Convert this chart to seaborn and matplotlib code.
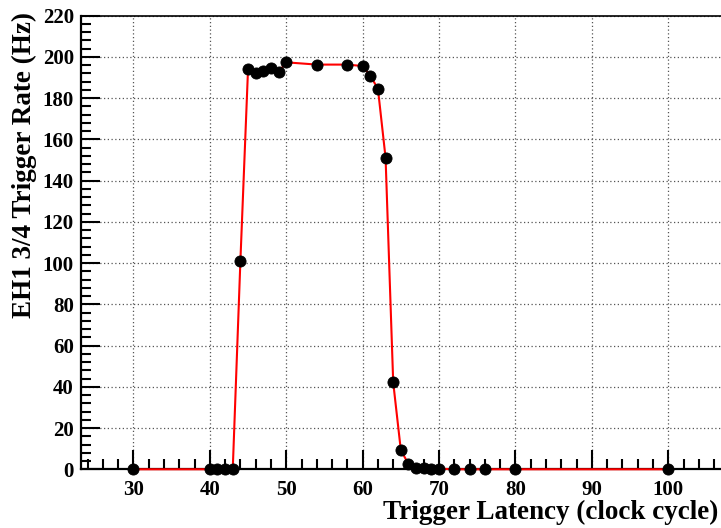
import matplotlib
matplotlib.use("Agg")
import matplotlib.pyplot as plt
import seaborn as sns
import pandas as pd
from matplotlib.ticker import MultipleLocator

latency = [30, 40, 41, 42, 43, 44, 45, 46, 47, 48, 49, 50, 54, 58, 60, 61, 62, 63,
           64, 65, 66, 67, 68, 69, 70, 72, 74, 76, 80, 100]
rate = [0, 0, 0, 0, 0, 101, 194, 192, 193.3, 194.4, 192.6, 197.3, 196.2, 196.2,
        195.5, 190.8, 184.5, 151, 42.1, 9.2, 2.6, 0.8, 0.4, 0.3, 0.3, 0, 0, 0, 0, 0]
x_label = "Trigger Latency (clock cycle)"
y_label = "EH1 3/4 Trigger Rate (Hz)"

df = pd.DataFrame({"latency": latency, "rate": rate})

sns.set_style("ticks", {"text.color": "black", "axes.edgecolor": "black",
                        "xtick.color": "black", "ytick.color": "black",
                        "axes.labelcolor": "black"})
plt.rcParams["font.family"] = ["Liberation Serif", "DejaVu Serif"]
plt.rcParams["font.weight"] = "bold"

fig = plt.figure(figsize=(7.21, 5.28), dpi=100)
W, H = 721, 528
left, right, top, bottom = 80.7, 721, 15.5, 469.3
ax = fig.add_axes([left / W, 1 - bottom / H, (right - left) / W, (bottom - top) / H])

sns.lineplot(data=df, x="latency", y="rate", ax=ax, color="red", linewidth=1.5,
             zorder=3, clip_on=False, sort=False)
sns.scatterplot(data=df, x="latency", y="rate", ax=ax, color="black", s=64,
                edgecolor="black", zorder=4, clip_on=False)

ax.set_xlim(23.1, 106.9)
ax.set_ylim(0, 220)
ax.xaxis.set_major_locator(MultipleLocator(10))
ax.xaxis.set_minor_locator(MultipleLocator(2))
ax.yaxis.set_major_locator(MultipleLocator(20))
ax.yaxis.set_minor_locator(MultipleLocator(4))
ax.tick_params(which="major", direction="in", length=14, width=1.5, labelsize=15,
               colors="black")
ax.tick_params(which="minor", direction="in", length=7, width=1.5, colors="black")
ax.tick_params(axis="x", which="major", pad=8)
ax.tick_params(axis="y", which="major", pad=5)
for lab in ax.get_xticklabels() + ax.get_yticklabels():
    lab.set_fontweight("bold")

ax.grid(True, which="major", linestyle=(0, (1, 2)), color="#555555", linewidth=0.9)
ax.set_axisbelow(True)
for s in ["left", "bottom", "top"]:
    ax.spines[s].set_color("black")
for s in ["left", "bottom"]:
    ax.spines[s].set_linewidth(1.6)
ax.spines["top"].set_linewidth(1.2)
ax.spines["right"].set_visible(False)
ax.set_xlabel("")
ax.set_ylabel("")

fig.text(718 / W, 1 - 512 / H, x_label, ha="right", va="center", fontsize=19.5,
         fontweight="bold", color="black")
fig.text(24 / W, 1 - 12 / H, y_label, ha="center", va="top", rotation=90,
         fontsize=19.5, fontweight="bold", color="black")

fig.savefig("out.png", dpi=100)
